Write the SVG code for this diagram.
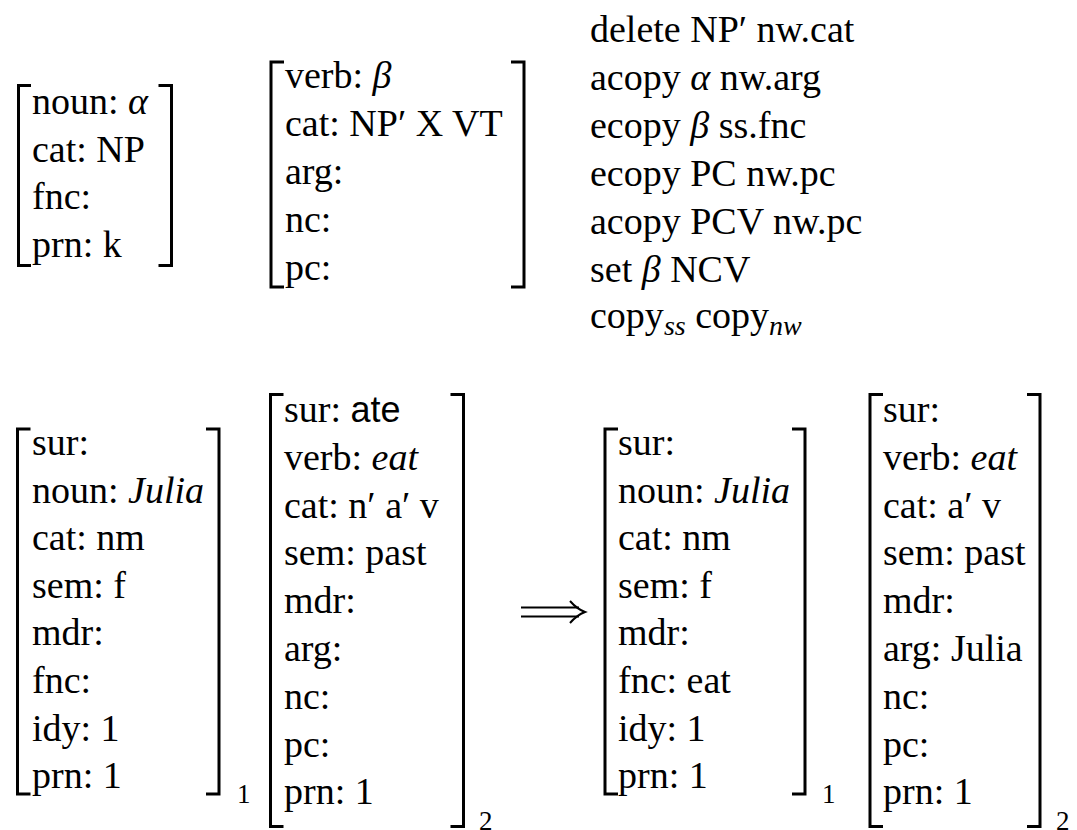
<svg xmlns="http://www.w3.org/2000/svg" width="1077" height="830" viewBox="0 0 1077 830">
<style>
text{font-family:'Liberation Serif','DejaVu Serif',serif;font-size:38px;fill:#000}
.i{font-style:italic}
.s{font-family:'Liberation Sans','DejaVu Sans',sans-serif;font-size:36px}
.sub{font-size:27px}
.subi{font-size:28px;font-style:italic}
.br{fill:none;stroke:#000;stroke-width:3;stroke-linejoin:miter}
.ar{fill:none;stroke:#000;stroke-width:2}
</style>
<rect width="1077" height="830" fill="#fff"/>

<g id="pattern-noun">
<path class="br" d="M31,85.5 H18.5 V265.5 H31"/>
<path class="br" d="M158.5,85.5 H171.5 V265.5 H158.5"/>
<text x="32" y="114">noun: <tspan class="i">α</tspan></text>
<text x="32" y="161.5">cat: NP</text>
<text x="32" y="209">fnc:</text>
<text x="32" y="256.5">prn: k</text>
</g>

<g id="pattern-verb">
<path class="br" d="M284,62 H271 V287 H284"/>
<path class="br" d="M511,62 H524 V287 H511"/>
<text x="285" y="88">verb: <tspan class="i">β</tspan></text>
<text x="285" y="136">cat: NP′ X VT</text>
<text x="285" y="184">arg:</text>
<text x="285" y="232">nc:</text>
<text x="285" y="280">pc:</text>
</g>

<g id="operations">
<text x="590" y="41.5">delete NP′ nw.cat</text>
<text x="590" y="89.5">acopy <tspan class="i">α</tspan> nw.arg</text>
<text x="590" y="137.5">ecopy <tspan class="i">β</tspan> ss.fnc</text>
<text x="590" y="185.5">ecopy PC nw.pc</text>
<text x="590" y="233.5">acopy PCV nw.pc</text>
<text x="590" y="281.5">set <tspan class="i">β</tspan> NCV</text>
<text x="590" y="328">copy<tspan class="subi" dy="7">ss</tspan><tspan dy="-7"> copy</tspan><tspan class="subi" dy="7">nw</tspan></text>
</g>

<g id="input-julia">
<path class="br" d="M30.5,429 H17.5 V794 H30.5"/>
<path class="br" d="M206,429 H219 V794 H206"/>
<text x="32" y="455">sur:</text>
<text x="32" y="502.6">noun: <tspan class="i">Julia</tspan></text>
<text x="32" y="550.2">cat: nm</text>
<text x="32" y="597.8">sem: f</text>
<text x="32" y="645.4">mdr:</text>
<text x="32" y="693">fnc:</text>
<text x="32" y="740.6">idy: 1</text>
<text x="32" y="788.2">prn: 1</text>
<text class="sub" x="237" y="803">1</text>
</g>

<g id="input-ate">
<path class="br" d="M283.5,394.5 H270.5 V826.5 H283.5"/>
<path class="br" d="M450.5,394.5 H463.5 V826.5 H450.5"/>
<text x="284" y="422">sur: <tspan class="s">ate</tspan></text>
<text x="284" y="469.8">verb: <tspan class="i">eat</tspan></text>
<text x="284" y="517.6">cat: n′ a′ v</text>
<text x="284" y="565.4">sem: past</text>
<text x="284" y="613.2">mdr:</text>
<text x="284" y="661">arg:</text>
<text x="284" y="708.8">nc:</text>
<text x="284" y="756.6">pc:</text>
<text x="284" y="804.4">prn: 1</text>
<text class="sub" x="479" y="830">2</text>
</g>

<g id="connectors">
<line class="ar" x1="521" y1="607.5" x2="579" y2="607.5"/>
<line class="ar" x1="521" y1="616.5" x2="579" y2="616.5"/>
<path class="ar" d="M570,601 Q577,609 585,612 Q577,615 570,623"/>
</g>

<g id="output-julia">
<path class="br" d="M618,429 H605 V794 H618"/>
<path class="br" d="M792,429 H805 V794 H792"/>
<text x="618" y="455">sur:</text>
<text x="618" y="502.6">noun: <tspan class="i">Julia</tspan></text>
<text x="618" y="550.2">cat: nm</text>
<text x="618" y="597.8">sem: f</text>
<text x="618" y="645.4">mdr:</text>
<text x="618" y="693">fnc: eat</text>
<text x="618" y="740.6">idy: 1</text>
<text x="618" y="788.2">prn: 1</text>
<text class="sub" x="822" y="803">1</text>
</g>

<g id="output-eat">
<path class="br" d="M883,394.5 H870 V826.5 H883"/>
<path class="br" d="M1027,394.5 H1040 V826.5 H1027"/>
<text x="883" y="422">sur:</text>
<text x="883" y="469.8">verb: <tspan class="i">eat</tspan></text>
<text x="883" y="517.6">cat: a′ v</text>
<text x="883" y="565.4">sem: past</text>
<text x="883" y="613.2">mdr:</text>
<text x="883" y="661">arg: Julia</text>
<text x="883" y="708.8">nc:</text>
<text x="883" y="756.6">pc:</text>
<text x="883" y="804.4">prn: 1</text>
<text class="sub" x="1056" y="830">2</text>
</g>
</svg>
